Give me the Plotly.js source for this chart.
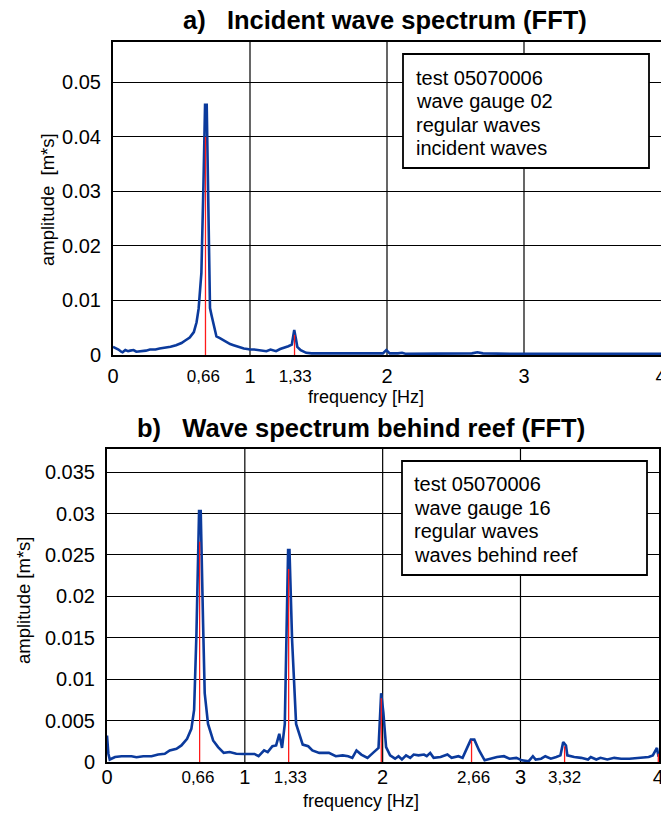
<!DOCTYPE html>
<html><head><meta charset="utf-8">
<script src="https://cdn.plot.ly/plotly-3.0.1.min.js"></script>
<style>html,body{margin:0;padding:0;background:#fff}</style>
</head><body><div id="chart" style="width:661px;height:817px"></div>
<script>
// ---- data: a) incident wave spectrum ----
const topFreq = [0.00,0.02,0.04,0.06,0.07,0.09,0.11,0.125,0.15,0.17,0.21,0.24,0.27,0.31,0.34,0.38,0.42,0.46,0.50,0.53,0.56,0.59,0.61,0.625,0.645,0.66,0.672,0.684,0.692,0.700,0.708,0.72,0.735,0.755,0.78,0.805,0.83,0.855,0.88,0.905,0.93,0.955,0.98,1.00,1.03,1.06,1.09,1.12,1.15,1.17,1.19,1.22,1.25,1.28,1.305,1.323,1.335,1.345,1.37,1.39,1.41,1.45,1.5,1.6,1.7,1.8,1.9,1.97,1.995,2.02,2.08,2.11,2.14,2.3,2.5,2.62,2.66,2.70,2.9,3.2,3.5,3.8,4.0];
const topAmp = [0.0015,0.0013,0.0010,0.0006,0.0005,0.0009,0.0007,0.0008,0.0009,0.0006,0.0007,0.0008,0.0010,0.0010,0.0012,0.0013,0.0015,0.0018,0.0022,0.0027,0.0032,0.0042,0.0060,0.0085,0.0150,0.0310,0.0459,0.0459,0.0300,0.0160,0.0086,0.0072,0.0055,0.0034,0.0031,0.0027,0.0023,0.0020,0.0018,0.0016,0.0013,0.0012,0.0011,0.0010,0.0010,0.0009,0.0009,0.0007,0.0010,0.0009,0.0007,0.0011,0.0013,0.0016,0.0019,0.0046,0.0030,0.0015,0.0009,0.0006,0.0004,0.0003,0.0003,0.0003,0.0003,0.0002,0.0003,0.0003,0.0009,0.0003,0.0003,0.0004,0.0002,0.0002,0.0002,0.0003,0.0005,0.0003,0.0002,0.0002,0.0002,0.0002,0.0002];
const topRedX = [0.675, 1.325];
const topRedY = [0.040, 0.0037];

// ---- data: b) spectrum behind reef ----
const botFreq = [0.00,0.01,0.02,0.058,0.106,0.178,0.214,0.263,0.323,0.371,0.419,0.455,0.504,0.540,0.581,0.612,0.632,0.649,0.668,0.680,0.697,0.709,0.733,0.77,0.806,0.847,0.89,0.938,0.993,1.07,1.10,1.14,1.166,1.20,1.227,1.25,1.27,1.29,1.314,1.324,1.343,1.372,1.42,1.46,1.49,1.54,1.61,1.66,1.71,1.75,1.78,1.81,1.845,1.89,1.93,1.97,1.989,2.005,2.025,2.054,2.09,2.115,2.14,2.17,2.2,2.225,2.26,2.3,2.32,2.345,2.37,2.42,2.47,2.5,2.55,2.58,2.615,2.64,2.665,2.7,2.74,2.79,2.83,2.88,2.92,2.97,3.01,3.06,3.09,3.11,3.15,3.18,3.22,3.26,3.29,3.31,3.33,3.34,3.39,3.44,3.49,3.51,3.55,3.58,3.63,3.68,3.73,3.79,3.84,3.88,3.93,3.96,3.99,4.0,4.02];
const botAmp = [0.0032,0.0010,0.0003,0.0006,0.0007,0.0007,0.00057,0.0007,0.0007,0.0009,0.0010,0.0014,0.0016,0.0020,0.0028,0.0040,0.0063,0.0155,0.0303,0.0303,0.0168,0.0083,0.0046,0.0026,0.0018,0.0011,0.0012,0.0010,0.00097,0.00097,0.0007,0.0014,0.0012,0.0019,0.0020,0.0034,0.0017,0.0046,0.0256,0.0256,0.0147,0.0046,0.0021,0.0019,0.0014,0.0011,0.0011,0.0007,0.0008,0.0007,0.0005,0.0014,0.0009,0.0005,0.0011,0.0017,0.0083,0.0060,0.0018,0.0008,0.0004,0.0007,0.0003,0.0008,0.0005,0.0009,0.0008,0.0009,0.0007,0.0011,0.0005,0.0006,0.0009,0.0005,0.0007,0.0005,0.0018,0.0027,0.0027,0.0014,0.0002,0.0004,0.0006,0.0007,0.0004,0.0005,0.0002,0.0001,0.0007,0.0003,0.0004,0.0007,0.0004,0.0006,0.0008,0.0024,0.0020,0.0008,0.0006,0.0005,0.0003,0.0006,0.0003,0.0005,0.0003,0.0005,0.0004,0.0004,0.0005,0.0005,0.0006,0.0008,0.0017,0.0008,0.0009];
const botRedX = [0.672, 1.318, 1.99, 2.645, 3.32, 4.0];
const botRedY = [0.0266, 0.0233, 0.0077, 0.0026, 0.0019, 0.0010];

// ---- ticks / labels ----
const topXIntVals = [0, 1, 2, 3, 4];
const topXIntText = ['0', '1', '2', '3', '4'];
const topXDecVals = [0.66, 1.33];
const topXDecText = ['0,66', '1,33'];
const botXIntVals = [0, 1, 2, 3, 4];
const botXIntText = ['0', '1', '2', '3', '4'];
const botXDecVals = [0.66, 1.33, 2.66, 3.32];
const botXDecText = ['0,66', '1,33', '2,66', '3,32'];
const topYTickVals = [0, 0.01, 0.02, 0.03, 0.04, 0.05];
const topYTickText = ['0', '0.01', '0.02', '0.03', '0.04', '0.05'];
const botYTickVals = [0, 0.005, 0.01, 0.015, 0.02, 0.025, 0.03, 0.035];
const botYTickText = ['0', '0.005', '0.01', '0.015', '0.02', '0.025', '0.03', '0.035'];
const gridFreq = [1, 2, 3];
const topLegend = ['test 05070006', 'wave gauge 02', 'regular waves', 'incident waves'];
const botLegend = ['test 05070006', 'wave gauge 16', 'regular waves', 'waves behind reef'];
const topTitle = 'a)&nbsp;&nbsp;&nbsp;Incident wave spectrum (FFT)';
const botTitle = 'b)&nbsp;&nbsp;&nbsp;Wave spectrum behind reef (FFT)';
const xTitle = 'frequency [Hz]';
const topYTitle = 'amplitude&nbsp;&nbsp;[m*s]';
const botYTitle = 'amplitude [m*s]';

// ---- layout helpers ----
const W = 661, H = 817;
const FONT = 'Liberation Sans, Arial, sans-serif';
const BLUE = '#0b3a9c', RED = '#ff1a1a';
const px = x => x / W;
const py = y => 1 - y / H;

function stems(xs, ys, xa, ya) {
  const x = [], y = [];
  xs.forEach((v, i) => { x.push(v, v, null); y.push(0, ys[i], null); });
  return {x, y, xaxis: xa, yaxis: ya, mode: 'lines', line: {color: RED, width: 1.3}, hoverinfo: 'skip', showlegend: false};
}

const traces = [
  {x: topFreq, y: topAmp, xaxis: 'x', yaxis: 'y', mode: 'lines', line: {color: BLUE, width: 2.6}, showlegend: false},
  stems(topRedX, topRedY, 'x3', 'y'),
  {x: botFreq, y: botAmp, xaxis: 'x2', yaxis: 'y2', mode: 'lines', line: {color: BLUE, width: 2.6}, showlegend: false},
  stems(botRedX, botRedY, 'x4', 'y2')
];

const axBase = {
  showline: true, mirror: true, linecolor: '#000', linewidth: 2,
  ticks: '', zeroline: false, fixedrange: true, ticklabeloverflow: 'allow',
  tickfont: {family: FONT, size: 20, color: '#000'}
};
const decBase = {
  showline: false, showgrid: false, zeroline: false, ticks: '', fixedrange: true,
  ticklabeloverflow: 'allow', side: 'bottom',
  tickfont: {family: FONT, size: 17, color: '#000'}
};

const topXDomain = [px(113), 1], topXRange = [0, 4.0];
const botXDomain = [px(107), px(659)], botXRange = [0, 4.005];

const layout = {
  width: W, height: H,
  margin: {l: 0, r: 0, t: 0, b: 0},
  paper_bgcolor: '#fff', plot_bgcolor: '#fff',
  font: {family: FONT, color: '#000'},
  showlegend: false,
  xaxis: Object.assign({}, axBase, {
    domain: topXDomain, range: topXRange, anchor: 'y',
    tickmode: 'array', tickvals: topXIntVals, ticktext: topXIntText,
    showgrid: false, ticklabelstandoff: 2
  }),
  xaxis3: Object.assign({}, decBase, {
    domain: topXDomain, range: topXRange, anchor: 'y', overlaying: 'x',
    tickmode: 'array', tickvals: topXDecVals, ticktext: topXDecText, ticklabelstandoff: 9
  }),
  yaxis: Object.assign({}, axBase, {
    domain: [py(355), py(42)], range: [0, 0.0574], anchor: 'x',
    tickmode: 'array', tickvals: topYTickVals, ticktext: topYTickText,
    showgrid: true, gridcolor: '#000', gridwidth: 1, ticklabelstandoff: 6
  }),
  xaxis2: Object.assign({}, axBase, {
    domain: botXDomain, range: botXRange, anchor: 'y2',
    tickmode: 'array', tickvals: botXIntVals, ticktext: botXIntText,
    showgrid: false, ticklabelstandoff: -4
  }),
  xaxis4: Object.assign({}, decBase, {
    domain: botXDomain, range: botXRange, anchor: 'y2', overlaying: 'x2',
    tickmode: 'array', tickvals: botXDecVals, ticktext: botXDecText, ticklabelstandoff: 3
  }),
  yaxis2: Object.assign({}, axBase, {
    domain: [py(762), py(449)], range: [0, 0.0378], anchor: 'x2',
    tickmode: 'array', tickvals: botYTickVals, ticktext: botYTickText,
    showgrid: true, gridcolor: '#000', gridwidth: 1, ticklabelstandoff: 6
  }),
  shapes: [],
  annotations: []
};

// vertical grid lines at whole frequencies
gridFreq.forEach(f => {
  layout.shapes.push({type: 'line', xref: 'x', yref: 'y domain', x0: f, x1: f, y0: 0, y1: 1, layer: 'below', line: {color: '#000', width: 1.2}});
  layout.shapes.push({type: 'line', xref: 'x2', yref: 'y2 domain', x0: f, x1: f, y0: 0, y1: 1, layer: 'below', line: {color: '#000', width: 1.2}});
});

// legend boxes
function legendBox(lines, x0, x1, y0, y1, tx, ty0, dy) {
  layout.shapes.push({type: 'rect', xref: 'paper', yref: 'paper', x0: px(x0), x1: px(x1), y0: py(y1), y1: py(y0),
    fillcolor: '#fff', line: {color: '#000', width: 1.8}, layer: 'above'});
  lines.forEach((t, i) => layout.annotations.push({
    text: t, xref: 'paper', yref: 'paper', x: px(tx), y: py(ty0 + i * dy),
    xanchor: 'left', yanchor: 'middle', showarrow: false,
    font: {family: FONT, size: 20, color: '#000'}
  }));
}
legendBox(topLegend, 403, 649, 54, 168, 414, 78, 23.3);
legendBox(botLegend, 402, 647, 461, 575, 412, 484, 23.7);

// titles
function ann(text, x, y, size, extra) {
  layout.annotations.push(Object.assign({
    text, xref: 'paper', yref: 'paper', x: px(x), y: py(y), xanchor: 'center', yanchor: 'middle',
    showarrow: false, font: {family: FONT, size, color: '#000'}
  }, extra || {}));
}
ann('<b>' + topTitle + '</b>', 385, 20, 25.5);
ann('<b>' + botTitle + '</b>', 361, 428, 25.5);
ann(xTitle, 366, 397, 18);
ann(xTitle, 361, 801, 18);
ann(topYTitle, 47, 200, 18.5, {textangle: -90});
ann(botYTitle, 23, 600, 18.5, {textangle: -90});

Plotly.newPlot('chart', traces, layout, {displayModeBar: false, staticPlot: true});
</script></body></html>
